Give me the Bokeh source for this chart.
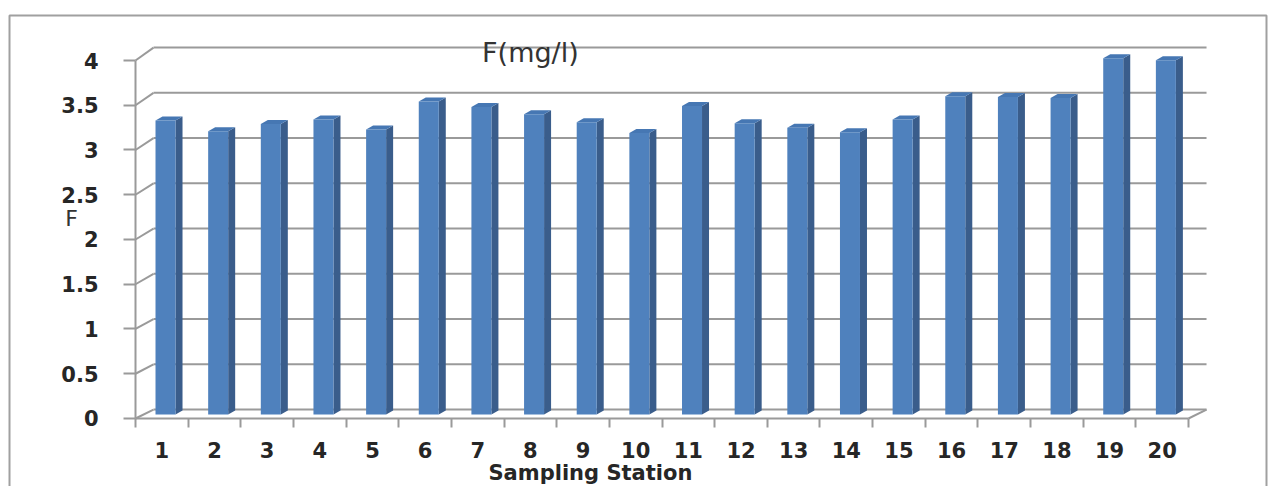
from bokeh.plotting import figure
from bokeh.models import FixedTicker, LinearAxis, Range1d
from bokeh.embed import file_html
from bokeh.resources import INLINE
from bokeh.core.properties import value

# ---- data -------------------------------------------------------------
stations = [str(i) for i in range(1, 21)]
fluoride = [3.31, 3.19, 3.27, 3.32, 3.21, 3.52, 3.46, 3.38, 3.29, 3.17,
            3.47, 3.28, 3.23, 3.18, 3.32, 3.58, 3.57, 3.56, 4.00, 3.98]
y_ticks = [0, 0.5, 1, 1.5, 2, 2.5, 3, 3.5, 4]
y_tick_labels = ["0", "0.5", "1", "1.5", "2", "2.5", "3", "3.5", "4"]
chart_title = "F(mg/l)"
x_title = "Sampling Station"
y_title = "F"

# ---- pseudo-3D geometry (data units) ----------------------------------
N = len(stations)
DX, DY, K_BACK = 0.342, 0.10, 1.011      # back wall offset / scale
BAR_OFF, BAR_W = 0.38, 0.38              # front face inside each slot
SIDE_DX, SIDE_DY = 0.133, 0.045          # bar depth as seen obliquely
BAR_BASE, BAR_K = 0.045, 1.006           # bars stand mid-depth on floor


def back_y(v):
    return DY + K_BACK * v


GRID = "#9a9a9a"
FONT = value("DejaVu Sans")

p = figure(width=1274, height=486,
           x_range=Range1d(-2.5641, 21.633), y_range=Range1d(-0.7598, 4.6704),
           output_backend="svg", toolbar_location=None, title=None,
           min_border=0, x_axis_type=None, y_axis_type=None)
p.outline_line_color = None
p.background_fill_color = "white"

# chart border
bx0, bx1, by1 = -2.393, 21.481, 4.503
p.line(x=[bx0, bx0, bx1, bx1], y=[-1.0, by1, by1, -1.0],
       line_color="#a0a0a0", line_width=2)

# back-wall gridlines and side-wall diagonals
p.segment(x0=[DX] * len(y_ticks), y0=[back_y(v) for v in y_ticks],
          x1=[N + DX] * len(y_ticks), y1=[back_y(v) for v in y_ticks],
          line_color=GRID, line_width=2)
p.segment(x0=[0] * len(y_ticks), y0=y_ticks,
          x1=[DX] * len(y_ticks), y1=[back_y(v) for v in y_ticks],
          line_color=GRID, line_width=2)
# right edge of the floor
p.segment(x0=[N], y0=[0], x1=[N + DX], y1=[back_y(0)],
          line_color=GRID, line_width=2)

# bars
lefts = [i + BAR_OFF for i in range(N)]
rights = [l + BAR_W for l in lefts]
tops = [v * BAR_K for v in fluoride]

side_xs = [[r, r + SIDE_DX, r + SIDE_DX, r] for r in rights]
side_ys = [[BAR_BASE, BAR_BASE + SIDE_DY, t + SIDE_DY, t] for t in tops]
p.patches(xs=side_xs, ys=side_ys, fill_color="#3a5d8b", line_color=None)

top_xs = [[l, r, r + SIDE_DX, l + SIDE_DX] for l, r in zip(lefts, rights)]
top_ys = [[t, t, t + SIDE_DY, t + SIDE_DY] for t in tops]
p.patches(xs=top_xs, ys=top_ys, fill_color="#4677b3", line_color=None)

p.quad(left=lefts, right=rights, bottom=[BAR_BASE] * N, top=tops,
       fill_color="#4f81bd", line_color=None)

# value axis on the front-left edge
yax = LinearAxis(fixed_location=0, bounds=(0, 4),
                 ticker=FixedTicker(ticks=y_ticks),
                 major_label_overrides=dict(zip(y_ticks, y_tick_labels)))
yax.axis_line_color = GRID
yax.axis_line_width = 2
yax.major_tick_line_color = GRID
yax.major_tick_line_width = 2
yax.major_tick_out = 12
yax.major_tick_in = 0
yax.minor_tick_out = 0
yax.minor_tick_in = 0
yax.major_label_standoff = 25
yax.major_label_text_font = "DejaVu Sans"
yax.major_label_text_font_style = "bold"
yax.major_label_text_font_size = "21px"
yax.major_label_text_color = "#262626"
p.add_layout(yax, "left")

# category axis: tick marks on slot boundaries
xticks_ax = LinearAxis(fixed_location=0, bounds=(0, N),
                       ticker=FixedTicker(ticks=list(range(N + 1))),
                       major_label_overrides={i: "" for i in range(N + 1)})
xticks_ax.axis_line_color = GRID
xticks_ax.axis_line_width = 2
xticks_ax.major_tick_line_color = GRID
xticks_ax.major_tick_line_width = 2
xticks_ax.major_tick_out = 9
xticks_ax.major_tick_in = 0
xticks_ax.minor_tick_out = 0
xticks_ax.minor_tick_in = 0
p.add_layout(xticks_ax, "below")

# category axis: station numbers centred in each slot
centers = [i + 0.5 for i in range(N)]
xlab_ax = LinearAxis(fixed_location=0,
                     ticker=FixedTicker(ticks=centers),
                     major_label_overrides=dict(zip(centers, stations)))
xlab_ax.axis_line_color = None
xlab_ax.major_tick_line_color = None
xlab_ax.major_tick_out = 0
xlab_ax.major_tick_in = 0
xlab_ax.minor_tick_out = 0
xlab_ax.minor_tick_in = 0
xlab_ax.major_label_standoff = 24
xlab_ax.major_label_text_font = "DejaVu Sans"
xlab_ax.major_label_text_font_style = "bold"
xlab_ax.major_label_text_font_size = "21px"
xlab_ax.major_label_text_color = "#262626"
p.add_layout(xlab_ax, "below")

# titles
p.text(x=[7.5], y=[4.09], text=[chart_title], text_font=FONT,
       text_font_size="27px", text_color="#333333",
       text_align="center", text_baseline="middle")
p.text(x=[-1.216], y=[2.235], text=[y_title], text_font=FONT,
       text_font_size="22px", text_color="#333333",
       text_align="center", text_baseline="middle")
p.text(x=[8.64], y=[-0.47], text=[x_title], text_font=FONT,
       text_font_style="bold", text_font_size="21px", text_color="#262626",
       text_align="center", text_baseline="top")

open("out.html", "w").write(file_html(p, INLINE))
